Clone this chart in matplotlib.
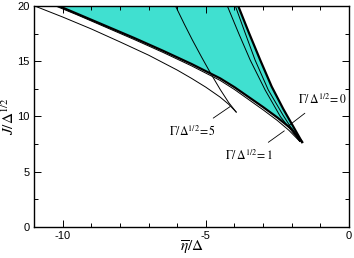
import matplotlib
matplotlib.use("Agg")
import matplotlib.pyplot as plt
from matplotlib.ticker import MultipleLocator
import numpy as np

# Gamma/Delta^1/2 = 0 : boundary of the shaded region
g0_low_x = [-10.14, -9.5, -8.5, -7.5, -6.5, -5.5, -4.5, -4.0, -3.5, -3.0, -2.5, -2.0, -1.64]
g0_low_y = [20.0, 19.3, 18.2, 17.1, 15.95, 14.75, 13.45, 12.65, 11.75, 10.85, 9.9, 8.85, 7.69]
g0_up_x = [-3.87, -3.5, -3.1, -2.7, -2.3, -1.95, -1.64]
g0_up_y = [20.0, 17.6, 15.1, 12.7, 10.7, 9.1, 7.69]

# Gamma/Delta^1/2 = 1
g1_low_x = [-10.25, -9.5, -8.5, -7.5, -6.5, -5.5, -4.5, -4.0, -3.5, -3.0, -2.5, -2.1, -1.72]
g1_low_y = [20.0, 19.2, 18.08, 16.96, 15.8, 14.58, 13.26, 12.44, 11.52, 10.6, 9.63, 8.75, 7.75]
g1_a_x = [-4.25, -3.85, -3.45, -2.93, -2.4, -1.72]
g1_a_y = [20.0, 17.5, 15.1, 12.4, 10.0, 7.75]
g1_b_x = [-3.97, -3.62, -3.28, -2.82, -2.3, -1.72]
g1_b_y = [20.0, 17.5, 15.1, 12.4, 10.1, 7.75]

# Gamma/Delta^1/2 = 5
g5_low_x = [-10.98, -10.0, -9.0, -8.0, -7.0, -6.0, -5.5, -5.0, -4.5, -4.2, -3.94]
g5_low_y = [20.0, 19.0, 17.92, 16.75, 15.55, 14.2, 13.45, 12.65, 11.75, 11.1, 10.4]
g5_up_x = [-6.06, -5.75, -5.47, -5.15, -4.84, -4.5, -4.2, -3.94]
g5_up_y = [20.0, 18.35, 16.92, 15.38, 13.94, 12.45, 11.25, 10.4]

plt.rcParams['mathtext.fontset'] = 'stix'
plt.rcParams['axes.unicode_minus'] = False

fig = plt.figure(figsize=(3.54, 2.58), dpi=100)
ax = fig.add_axes([0.096, 0.12, 0.89, 0.857])

# shaded region between the two Gamma=0 branches
fx = g0_low_x + g0_up_x[::-1]
fy = g0_low_y + g0_up_y[::-1]
ax.fill(fx, fy, color='#40e0d0', lw=0)

thin = dict(color='k', lw=0.7, solid_joinstyle='round')
ax.plot(g1_low_x, g1_low_y, **thin)
ax.plot(g1_a_x, g1_a_y, **thin)
ax.plot(g1_b_x, g1_b_y, **thin)
ax.plot(g5_low_x, g5_low_y, **thin)
ax.plot(g5_up_x, g5_up_y, **thin)
ax.plot(g0_low_x, g0_low_y, color='k', lw=1.6, solid_joinstyle='round')
ax.plot(g0_up_x, g0_up_y, color='k', lw=1.6, solid_joinstyle='round')

ax.set_xlim(-11, 0)
ax.set_ylim(0, 20)
ax.xaxis.set_major_locator(MultipleLocator(5))
ax.xaxis.set_minor_locator(MultipleLocator(1))
ax.yaxis.set_major_locator(MultipleLocator(5))
ax.yaxis.set_minor_locator(MultipleLocator(2.5))
ax.tick_params(which='both', direction='in', top=True, right=True, width=0.7)
ax.tick_params(which='major', length=5, labelsize=8, pad=3)
ax.tick_params(which='minor', length=3)
for lab in ax.get_xticklabels() + ax.get_yticklabels():
    lab.set_family('Liberation Sans')
for s in ax.spines.values():
    s.set_linewidth(1.0)

ax.set_xlabel(r'$\overline{\eta}/\Delta$', fontsize=11, labelpad=-2)
ax.set_ylabel(r'$\overline{J}/\Delta^{1/2}$', fontsize=11, labelpad=0)

kw = dict(fontsize=8.5, ha='center', va='center')
ax.annotate(r'$\Gamma/\,\Delta^{1/2}\!= 0$', xy=(-2.14, 9.1), xytext=(-0.94, 11.5),
            arrowprops=dict(arrowstyle='-', lw=0.6, shrinkA=4, shrinkB=0), **kw)
ax.annotate(r'$\Gamma/\,\Delta^{1/2}\!= 1$', xy=(-2.26, 8.7), xytext=(-3.5, 6.4),
            arrowprops=dict(arrowstyle='-', lw=0.6, shrinkA=5, shrinkB=0), **kw)
ax.annotate(r'$\Gamma/\Delta^{1/2}\!= 5$', xy=(-4.15, 10.9), xytext=(-5.45, 8.6),
            arrowprops=dict(arrowstyle='-', lw=0.6, shrinkA=5, shrinkB=0), **kw)

fig.savefig('out.png', dpi=100)
